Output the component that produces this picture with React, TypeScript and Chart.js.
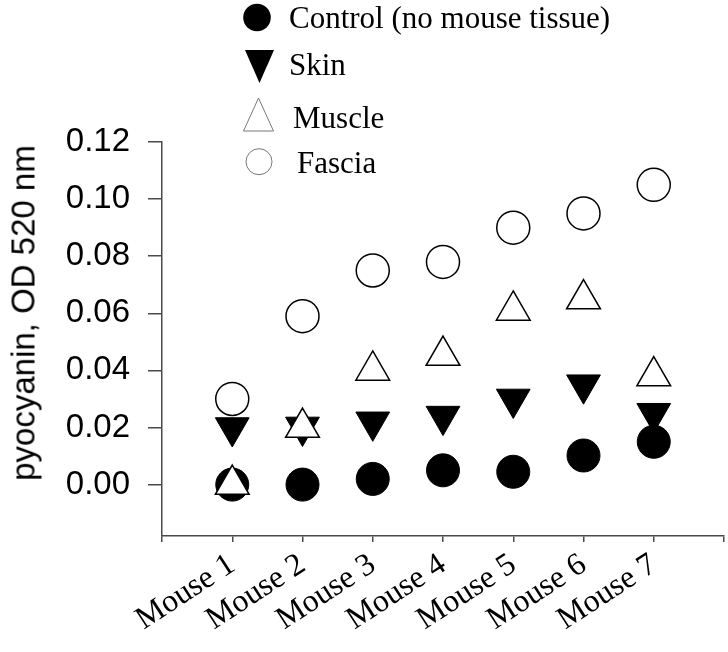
import React, { useEffect, useRef } from 'react';
import { Chart, registerables } from 'chart.js';

Chart.register(...registerables);

const categories = ['Mouse 1', 'Mouse 2', 'Mouse 3', 'Mouse 4', 'Mouse 5', 'Mouse 6', 'Mouse 7'];
const controlValues = [0.0, 0.0, 0.002, 0.005, 0.0045, 0.0102, 0.015];
const skinValues = [0.02, 0.0202, 0.022, 0.024, 0.03, 0.035, 0.025];
const muscleValues = [0.0, 0.02, 0.04, 0.0452, 0.061, 0.065, 0.038];
const fasciaValues = [0.03, 0.059, 0.075, 0.078, 0.09, 0.095, 0.105];
const yTickValues = [0, 0.02, 0.04, 0.06, 0.08, 0.1, 0.12];
const seriesNames = ['Control (no mouse tissue)', 'Skin', 'Muscle', 'Fascia'];
const yTitle = 'pyocyanin, OD 520 nm';

const toPoints = (vals: number[]) => vals.map((v, i) => ({ x: i + 1, y: v }));

const AXIS_COLOR = '#4a4a4a';

export default function App() {
  const canvasRef = useRef<HTMLCanvasElement | null>(null);

  useEffect(() => {
    const canvas = canvasRef.current;
    if (!canvas) return;
    const chart = new Chart(canvas, {
      type: 'scatter',
      data: {
        datasets: [
          {
            label: seriesNames[0],
            data: toPoints(controlValues),
            pointStyle: 'circle',
            pointRadius: 16.5,
            backgroundColor: '#000',
            borderColor: '#000',
            borderWidth: 1,
            order: 4,
            clip: false,
          },
          {
            label: seriesNames[1],
            data: toPoints(skinValues),
            pointStyle: 'triangle',
            rotation: 180,
            pointRadius: 19.5,
            backgroundColor: '#000',
            borderColor: '#000',
            borderWidth: 1,
            order: 3,
            clip: false,
          },
          {
            label: seriesNames[2],
            data: toPoints(muscleValues),
            pointStyle: 'triangle',
            pointRadius: 19.5,
            backgroundColor: '#fff',
            borderColor: '#000',
            borderWidth: 1.5,
            order: 2,
            clip: false,
          },
          {
            label: seriesNames[3],
            data: toPoints(fasciaValues),
            pointStyle: 'circle',
            pointRadius: 16.5,
            backgroundColor: '#fff',
            borderColor: '#000',
            borderWidth: 1.5,
            order: 1,
            clip: false,
          },
        ] as any,
      },
      options: {
        animation: false,
        responsive: false,
        events: [],
        layout: { autoPadding: false, padding: { top: 142, right: 4, left: 0, bottom: 0 } },
        plugins: {
          legend: { display: false },
          tooltip: { enabled: false },
        },
        scales: {
          x: {
            type: 'linear',
            min: 0,
            max: categories.length + 1,
            afterFit: (scale: any) => {
              scale.height = 116;
              scale.paddingLeft = 0;
              scale.paddingRight = 0;
            },
            ticks: {
              stepSize: 1,
              autoSkip: false,
              minRotation: 33,
              maxRotation: 33,
              padding: 4,
              color: '#000',
              font: { family: "'Liberation Serif', 'Times New Roman', serif", size: 32 },
              callback: (v: any) => {
                const n = Number(v);
                return Number.isInteger(n) && n >= 1 && n <= categories.length ? categories[n - 1] : '';
              },
            },
            grid: {
              display: true,
              drawOnChartArea: false,
              drawTicks: true,
              tickLength: 6,
              color: AXIS_COLOR,
              lineWidth: 1.5,
            },
            border: { display: true, color: AXIS_COLOR, width: 1.5 },
          },
          y: {
            type: 'linear',
            min: -0.018,
            max: 0.12,
            afterBuildTicks: (scale: any) => {
              scale.ticks = yTickValues.map((v) => ({ value: v }));
            },
            afterFit: (scale: any) => {
              scale.width = 162;
            },
            ticks: {
              padding: 18,
              color: '#000',
              font: { family: "'Liberation Sans', Arial, sans-serif", size: 33 },
              callback: (v: any) => Number(v).toFixed(2),
            },
            grid: {
              display: true,
              drawOnChartArea: false,
              drawTicks: true,
              tickLength: 14,
              color: AXIS_COLOR,
              lineWidth: 1.5,
            },
            border: { display: true, color: AXIS_COLOR, width: 1.5 },
          },
        },
      } as any,
    });
    return () => chart.destroy();
  }, []);

  const legendFont: React.CSSProperties = {
    position: 'absolute',
    fontFamily: "'Liberation Serif', 'Times New Roman', serif",
    fontSize: 31,
    lineHeight: '31px',
    color: '#000',
    whiteSpace: 'nowrap',
  };

  return (
    <div style={{ position: 'absolute', left: 0, top: 0, width: 728, height: 652, background: '#fff', overflow: 'hidden' }}>
      <canvas ref={canvasRef} width={728} height={652} style={{ display: 'block', width: 728, height: 652 }} />
      <div
        style={{
          position: 'absolute',
          left: 23,
          top: 313,
          transform: 'translate(-50%, -50%) rotate(-90deg)',
          fontFamily: "'Liberation Sans', Arial, sans-serif",
          fontSize: 33,
          lineHeight: '33px',
          whiteSpace: 'nowrap',
          color: '#000',
        }}
      >
        {yTitle}
      </div>
      <svg width={728} height={190} style={{ position: 'absolute', left: 0, top: 0 }}>
        <circle cx={257} cy={17.5} r={13.8} fill="#000" />
        <polygon points="245,50 274,50 259.5,83" fill="#000" />
        <polygon points="243.5,131 273.5,131 258.5,98" fill="#fff" stroke="#777" strokeWidth={1} />
        <circle cx={259} cy={161.7} r={13} fill="#fff" stroke="#777" strokeWidth={1} />
      </svg>
      <div style={{ ...legendFont, left: 289, top: 2 }}>{seriesNames[0]}</div>
      <div style={{ ...legendFont, left: 289, top: 49 }}>{seriesNames[1]}</div>
      <div style={{ ...legendFont, left: 293, top: 102 }}>{seriesNames[2]}</div>
      <div style={{ ...legendFont, left: 297, top: 147 }}>{seriesNames[3]}</div>
    </div>
  );
}
